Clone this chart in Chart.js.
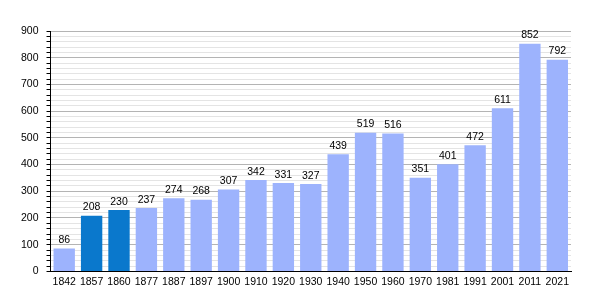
<!DOCTYPE html>
<html lang="en">
<head>
  <meta charset="UTF-8" />
  <title>Population</title>
  <script src="https://cdn.jsdelivr.net/npm/chart.js"></script>
  <style>
    body { margin: 0; background: #fff; }
  </style>
</head>
<body>
  <canvas id="popChart" width="600" height="300"></canvas>

  <script>
    const years = ['1842', '1857', '1860', '1877', '1887', '1897', '1900', '1910', '1920', '1930',
                   '1940', '1950', '1960', '1970', '1981', '1991', '2001', '2011', '2021'];
    const population = [86, 208, 230, 237, 274, 268, 307, 342, 331, 327,
                        439, 519, 516, 351, 401, 472, 611, 852, 792];
    const highlighted = ['1857', '1860'];

    const lightBlue = '#9db3fd';
    const darkBlue = '#0a78cc';
    const fontFamily = '"Liberation Sans", Arial, sans-serif';

    // draw the value above each bar
    const valueLabels = {
      id: 'valueLabels',
      afterDatasetsDraw(chart) {
        const ctx = chart.ctx;
        const meta = chart.getDatasetMeta(0);
        ctx.save();
        ctx.font = '10.5px ' + fontFamily;
        ctx.fillStyle = '#000';
        ctx.textAlign = 'center';
        ctx.textBaseline = 'bottom';
        meta.data.forEach((bar, i) => {
          ctx.fillText(population[i], bar.x, bar.y - 3);
        });
        ctx.restore();
      }
    };

    const ctx = document.getElementById('popChart').getContext('2d');
    new Chart(ctx, {
      type: 'bar',
      data: {
        labels: years,
        datasets: [{
          data: population,
          backgroundColor: years.map(y => highlighted.includes(y) ? darkBlue : lightBlue),
          barPercentage: 0.78,
          categoryPercentage: 1
        }]
      },
      options: {
        responsive: false,
        animation: false,
        devicePixelRatio: 1,
        layout: { padding: { top: 31, right: 29, left: 13, bottom: 8 } },
        plugins: {
          legend: { display: false },
          tooltip: { enabled: false }
        },
        scales: {
          x: {
            grid: { display: false, drawTicks: false },
            border: { color: '#000', width: 1 },
            ticks: {
              color: '#000',
              padding: 4,
              maxRotation: 0,
              autoSkip: false,
              font: { family: fontFamily, size: 10.5 }
            }
          },
          y: {
            min: 0,
            max: 900,
            border: { color: '#000', width: 1 },
            grid: {
              color: c => (c.tick && c.tick.value % 100 === 0) ? '#b4b4b4' : '#e4e4e4',
              tickColor: '#000',
              tickLength: 4
            },
            ticks: {
              stepSize: 20,
              autoSkip: false,
              color: '#000',
              padding: 8,
              font: { family: fontFamily, size: 10.5 },
              callback: v => v % 100 === 0 ? v : ''
            }
          }
        }
      },
      plugins: [valueLabels]
    });
  </script>
</body>
</html>
